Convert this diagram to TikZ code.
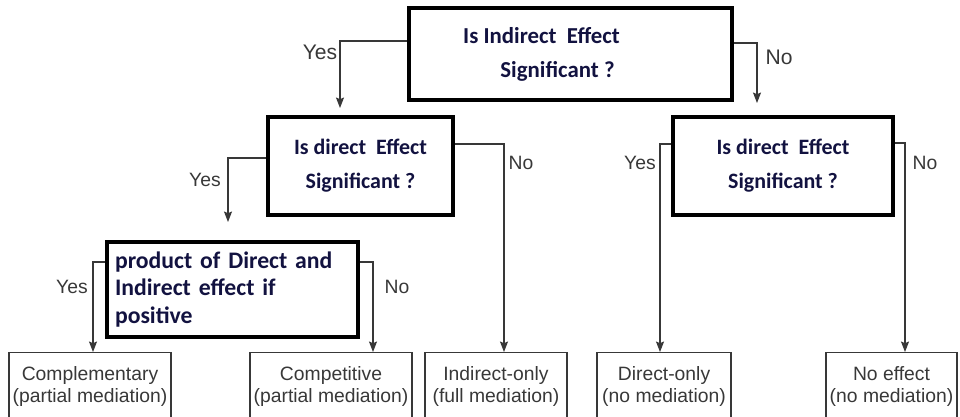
\documentclass[tikz,border=0pt]{standalone}
\usepackage{fontspec}
\setmainfont{Liberation Sans}
\newfontfamily\qfont{Carlito}
\usepackage{tikz}
\usepackage{xcolor}
\usetikzlibrary{arrows.meta}
\definecolor{qnavy}{rgb}{0.07,0.07,0.25}
\definecolor{lgray}{gray}{0.22}
\begin{document}
\begin{tikzpicture}[x=0.02cm,y=-0.02cm,
    qbox/.style={draw=black,line width=2.2pt,text=qnavy,align=center,inner sep=2pt,
        font=\qfont\bfseries\fontsize{13}{19.3}\selectfont},
    outbox/.style={draw=lgray,line width=0.6pt,text=lgray,align=center,anchor=north,
        minimum height=1.36cm,inner sep=1pt,font=\fontsize{11}{13}\selectfont},
    link/.style={draw=lgray,line width=0.6pt},
    arr/.style={link,-{Stealth[length=6pt,width=4.6pt,inset=1pt]}},
    ans/.style={text=lgray,font=\fontsize{11}{13}\selectfont}]
        \useasboundingbox (0,0) rectangle (960,416);
        \node[qbox,minimum width=6.46cm,minimum height=1.84cm](top) at (570.5,54)
            {Is Indirect\ \ Effect\hspace*{1.16cm}\\ Significant ?\hspace*{0.52cm}};
        \node[qbox,minimum width=3.7cm,minimum height=1.96cm,font=\qfont\bfseries\fontsize{12.5}{19.3}\selectfont](dleft) at (360.5,166)
            {Is direct\ \ Effect\\ Significant ?};
        \node[qbox,minimum width=4.4cm,minimum height=1.96cm,font=\qfont\bfseries\fontsize{12.5}{19.3}\selectfont](dright) at (783,166)
            {Is direct\ \ Effect\\ Significant ?};
        \node[qbox,minimum width=5.02cm,minimum height=1.9cm,text width=4.7cm,align=left,
            font=\qfont\bfseries\fontsize{13.5}{15.6}\selectfont](prod) at (232.5,289.5)
            {product of Direct and\\ Indirect effect if\\ positive};
        \node[outbox,minimum width=3.24cm](comp) at (90,352){Complementary\\ (partial mediation)};
        \node[outbox,minimum width=3.24cm](compet) at (331,352){Competitive\\ (partial mediation)};
        \node[outbox,minimum width=2.84cm](indonly) at (496,352){Indirect-only\\ (full mediation)};
        \node[outbox,minimum width=2.68cm](dironly) at (664,352){Direct-only\\ (no mediation)};
        \node[outbox,minimum width=2.62cm](noeff) at (891.5,352){No effect\\ (no mediation)};
        \coordinate (yes1) at (340,108);
        \coordinate (no1) at (757,103);
        \coordinate (yes2) at (228,222);
        \draw[arr]([yshift=0.26cm]top.west) -| (yes1);
        \draw[arr]([yshift=0.22cm]top.east) -| (no1);
        \draw[arr]([yshift=0.16cm]dleft.west) -| (yes2);
        \draw[arr]([yshift=0.44cm]dleft.east) -| ([xshift=0.16cm]indonly.north);
        \draw[arr]([yshift=0.44cm]dright.west) -| ([xshift=-0.08cm]dironly.north);
        \draw[arr]([yshift=0.46cm]dright.east) -| ([xshift=0.27cm]noeff.north);
        \draw[arr]([yshift=0.55cm]prod.west) -| ([xshift=0.06cm]comp.north);
        \draw[arr]([yshift=0.55cm]prod.east) -| ([xshift=0.84cm]compet.north);
        \node[ans,font=\fontsize{12}{14}\selectfont](yt) at (320,52){Yes};
        \node[ans,font=\fontsize{12}{14}\selectfont](nt) at (779,57){No};
        \node[ans](yl) at (205,180){Yes};
        \node[ans](nl) at (521,163){No};
        \node[ans](yr) at (640,163){Yes};
        \node[ans](nr) at (925,163){No};
        \node[ans](yp) at (72,287){Yes};
        \node[ans](np) at (397,287){No};
    \end{tikzpicture}
\end{document}
